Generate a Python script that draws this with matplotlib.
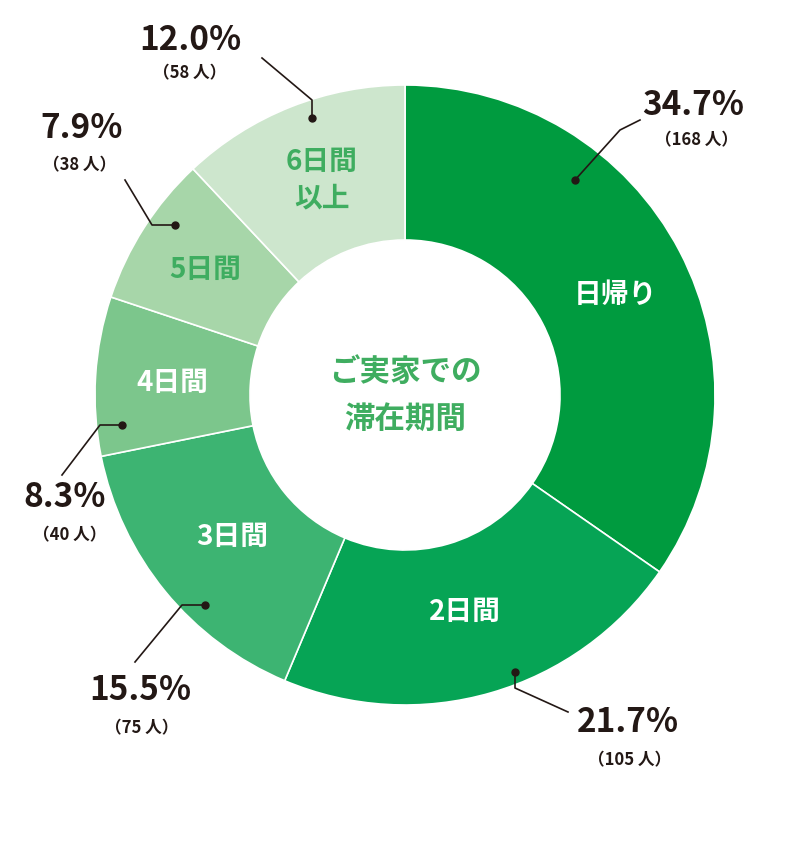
# ご実家での滞在期間 donut chart
import matplotlib.pyplot as plt

plt.rcParams["font.family"] = ["Noto Sans CJK JP"]

categories = ["日帰り", "2日間", "3日間", "4日間", "5日間", "6日間\n以上"]
percent = [34.7, 21.7, 15.5, 8.3, 7.9, 12.0]
people = [168, 105, 75, 40, 38, 58]

colors = ["#009b3f", "#06a455", "#3db472", "#7cc68c", "#a7d6a9", "#cde6cd"]
text_colors = ["white", "white", "white", "white", "#3fad60", "#3fad60"]
green = "#3fad60"

W, H = 788, 841
cx, cy, R = 405, 395, 310

def p(x, y):
    # pixel (y down) -> axes data (y up)
    return x, H - y

# layout positions (pixels)
inner_pos = [(615, 295), (465, 612), (232, 537), (172, 383), (205, 270), (322, 180)]
dot_pos = [(575, 180), (515, 672), (205, 605), (122, 425), (175, 225), (312, 118)]
elbow = [(620, 130), (515, 688), (182, 605), (100, 425), (152, 225), (312, 100)]
line_end = [(640, 120), (568, 712), (135, 662), (62, 475), (125, 180), (262, 58)]
pct_pos = [(693, 105), (628, 722), (140, 690), (65, 497), (82, 128), (190, 40)]
ppl_pos = [(697, 140), (630, 760), (142, 728), (70, 535), (80, 165), (190, 73)]

fig = plt.figure(figsize=(W / 100, H / 100), dpi=100)
ax = fig.add_axes([0, 0, 1, 1])
ax.set_xlim(0, W)
ax.set_ylim(0, H)
ax.set_aspect("equal")
ax.axis("off")

ax.pie(percent, colors=colors, startangle=90, counterclock=False,
       center=p(cx, cy), radius=R, frame=True,
       wedgeprops=dict(width=R * 0.5, edgecolor="white", linewidth=1.2))
ax.set_xlim(0, W)
ax.set_ylim(0, H)
ax.axis("off")

for i in range(len(categories)):
    ax.text(*p(*inner_pos[i]), categories[i], color=text_colors[i], fontsize=20,
            fontweight="bold", ha="center", va="center", linespacing=1.4)
    xs = [dot_pos[i][0], elbow[i][0], line_end[i][0]]
    ys = [H - dot_pos[i][1], H - elbow[i][1], H - line_end[i][1]]
    ax.plot(xs, ys, color="#231815", lw=1.2)
    ax.plot(xs[0], ys[0], "o", color="#231815", ms=5)
    ax.text(*p(*pct_pos[i]), f"{percent[i]:.1f}%", color="#231815", fontsize=24,
            fontweight="bold", ha="center", va="center")
    ax.text(*p(*ppl_pos[i]), f"（{people[i]} 人）", color="#231815", fontsize=12,
            fontweight="bold", ha="center", va="center")

ax.text(*p(cx, 395), "ご実家での\n滞在期間", color=green, fontsize=22,
        fontweight="bold", ha="center", va="center", linespacing=1.6)

fig.savefig("out.png", dpi=100)
